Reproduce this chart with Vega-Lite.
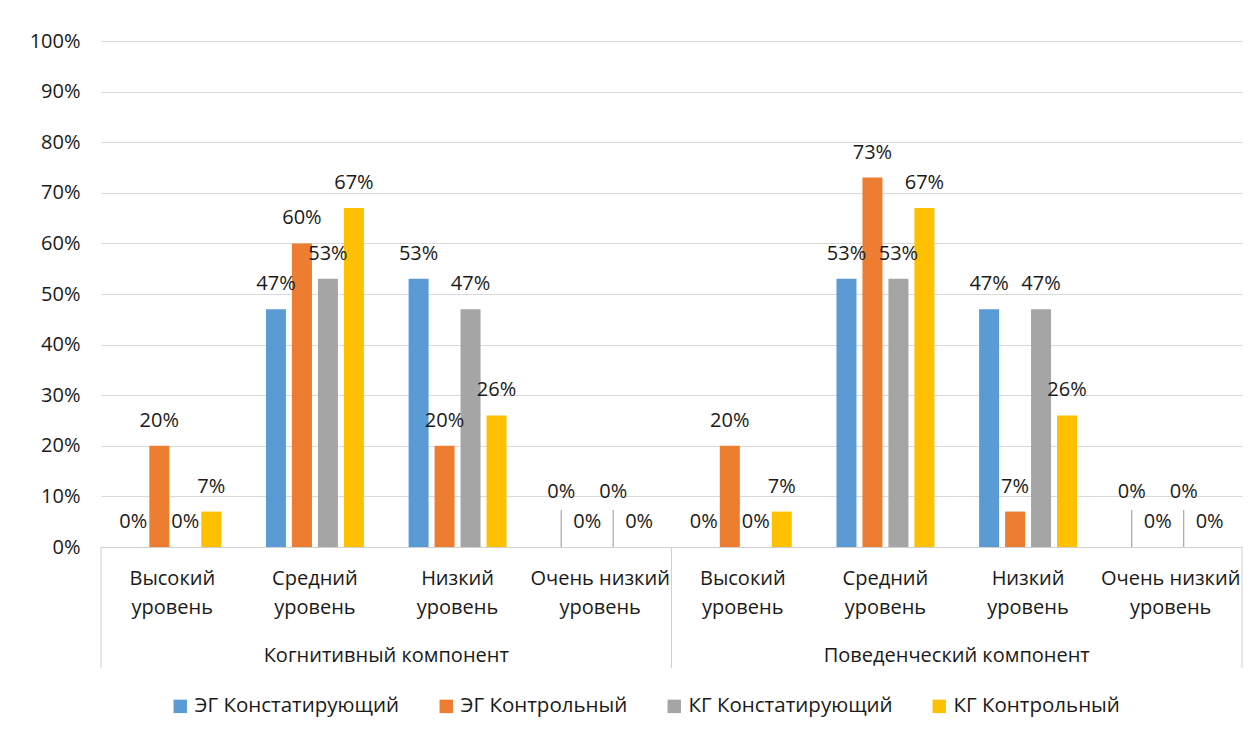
{
  "$schema": "https://vega.github.io/schema/vega-lite/v6.json",
  "width": 1141,
  "height": 506,
  "autosize": "none",
  "padding": {"left": 101, "top": 41, "right": 18, "bottom": 191},
  "background": "white",
  "config": {
    "font": "Open Sans",
    "view": {"stroke": null},
    "text": {"font": "Open Sans"}
  },
  "datasets": {
    "bars": [
      {"cat": "К|Высокий|уровень", "level": "Высокий уровень", "series": "ЭГ Констатирующий", "value": 0},
      {"cat": "К|Высокий|уровень", "level": "Высокий уровень", "series": "ЭГ Контрольный", "value": 0.20},
      {"cat": "К|Высокий|уровень", "level": "Высокий уровень", "series": "КГ Констатирующий", "value": 0},
      {"cat": "К|Высокий|уровень", "level": "Высокий уровень", "series": "КГ Контрольный", "value": 0.07},
      {"cat": "К|Средний|уровень", "level": "Средний уровень", "series": "ЭГ Констатирующий", "value": 0.47},
      {"cat": "К|Средний|уровень", "level": "Средний уровень", "series": "ЭГ Контрольный", "value": 0.60},
      {"cat": "К|Средний|уровень", "level": "Средний уровень", "series": "КГ Констатирующий", "value": 0.53},
      {"cat": "К|Средний|уровень", "level": "Средний уровень", "series": "КГ Контрольный", "value": 0.67},
      {"cat": "К|Низкий|уровень", "level": "Низкий уровень", "series": "ЭГ Констатирующий", "value": 0.53},
      {"cat": "К|Низкий|уровень", "level": "Низкий уровень", "series": "ЭГ Контрольный", "value": 0.20},
      {"cat": "К|Низкий|уровень", "level": "Низкий уровень", "series": "КГ Констатирующий", "value": 0.47},
      {"cat": "К|Низкий|уровень", "level": "Низкий уровень", "series": "КГ Контрольный", "value": 0.26},
      {"cat": "К|Очень низкий|уровень", "level": "Очень низкий уровень", "series": "ЭГ Констатирующий", "value": 0},
      {"cat": "К|Очень низкий|уровень", "level": "Очень низкий уровень", "series": "ЭГ Контрольный", "value": 0},
      {"cat": "К|Очень низкий|уровень", "level": "Очень низкий уровень", "series": "КГ Констатирующий", "value": 0},
      {"cat": "К|Очень низкий|уровень", "level": "Очень низкий уровень", "series": "КГ Контрольный", "value": 0},
      {"cat": "П|Высокий|уровень", "level": "Высокий уровень", "series": "ЭГ Констатирующий", "value": 0},
      {"cat": "П|Высокий|уровень", "level": "Высокий уровень", "series": "ЭГ Контрольный", "value": 0.20},
      {"cat": "П|Высокий|уровень", "level": "Высокий уровень", "series": "КГ Констатирующий", "value": 0},
      {"cat": "П|Высокий|уровень", "level": "Высокий уровень", "series": "КГ Контрольный", "value": 0.07},
      {"cat": "П|Средний|уровень", "level": "Средний уровень", "series": "ЭГ Констатирующий", "value": 0.53},
      {"cat": "П|Средний|уровень", "level": "Средний уровень", "series": "ЭГ Контрольный", "value": 0.73},
      {"cat": "П|Средний|уровень", "level": "Средний уровень", "series": "КГ Констатирующий", "value": 0.53},
      {"cat": "П|Средний|уровень", "level": "Средний уровень", "series": "КГ Контрольный", "value": 0.67},
      {"cat": "П|Низкий|уровень", "level": "Низкий уровень", "series": "ЭГ Констатирующий", "value": 0.47},
      {"cat": "П|Низкий|уровень", "level": "Низкий уровень", "series": "ЭГ Контрольный", "value": 0.07},
      {"cat": "П|Низкий|уровень", "level": "Низкий уровень", "series": "КГ Констатирующий", "value": 0.47},
      {"cat": "П|Низкий|уровень", "level": "Низкий уровень", "series": "КГ Контрольный", "value": 0.26},
      {"cat": "П|Очень низкий|уровень", "level": "Очень низкий уровень", "series": "ЭГ Констатирующий", "value": 0},
      {"cat": "П|Очень низкий|уровень", "level": "Очень низкий уровень", "series": "ЭГ Контрольный", "value": 0},
      {"cat": "П|Очень низкий|уровень", "level": "Очень низкий уровень", "series": "КГ Констатирующий", "value": 0},
      {"cat": "П|Очень низкий|уровень", "level": "Очень низкий уровень", "series": "КГ Контрольный", "value": 0}
    ],
    "comps": [
      {"cat": "К|Низкий|уровень", "comp": "Когнитивный компонент"},
      {"cat": "П|Низкий|уровень", "comp": "Поведенческий компонент"}
    ],
    "edgesStart": [
      {"cat": "К|Высокий|уровень"},
      {"cat": "П|Высокий|уровень"}
    ],
    "edgesEnd": [
      {"cat": "П|Очень низкий|уровень"}
    ]
  },
  "layer": [
    {
      "data": {"name": "bars"},
      "mark": {"type": "bar"},
      "encoding": {
        "x": {
          "field": "cat", "type": "nominal",
          "scale": {
            "domain": ["К|Высокий|уровень", "К|Средний|уровень", "К|Низкий|уровень", "К|Очень низкий|уровень",
                       "П|Высокий|уровень", "П|Средний|уровень", "П|Низкий|уровень", "П|Очень низкий|уровень"],
            "paddingInner": 0, "paddingOuter": 0
          },
          "axis": {
            "title": null,
            "labelExpr": "slice(split(datum.label, '|'), 1)",
            "labelFontSize": 20,
            "labelColor": "#1a1a1a",
            "labelAngle": 0,
            "labelLineHeight": 29,
            "labelPadding": 21,
            "labelBaseline": "top",
            "labelOverlap": false,
            "labelLimit": 0,
            "ticks": false,
            "domainColor": "#d0d0d0",
            "domainWidth": 1,
            "grid": false
          }
        },
        "xOffset": {
          "field": "series", "type": "nominal",
          "scale": {
            "domain": ["ЭГ Констатирующий", "ЭГ Контрольный", "КГ Констатирующий", "КГ Контрольный"],
            "paddingInner": 0.23, "paddingOuter": 0.86
          }
        },
        "y": {
          "field": "value", "type": "quantitative",
          "scale": {"domain": [0, 1], "nice": false},
          "axis": {
            "title": null,
            "format": ".0%",
            "values": [0, 0.1, 0.2, 0.3, 0.4, 0.5, 0.6, 0.7, 0.8, 0.9, 1],
            "labelFontSize": 20,
            "labelColor": "#1a1a1a",
            "labelPadding": 21,
            "domain": false,
            "ticks": false,
            "gridColor": "#d9d9d9",
            "gridWidth": 1
          }
        },
        "color": {
          "field": "series", "type": "nominal",
          "scale": {
            "domain": ["ЭГ Констатирующий", "ЭГ Контрольный", "КГ Констатирующий", "КГ Контрольный"],
            "range": ["#5B9BD5", "#ED7D31", "#A5A5A5", "#FFC000"]
          },
          "legend": {
            "title": null,
            "orient": "none",
            "legendX": 69,
            "legendY": 655,
            "direction": "horizontal",
            "columns": 4,
            "symbolType": "square",
            "symbolSize": 180,
            "symbolStrokeWidth": 0,
            "labelFontSize": 20.5,
            "labelColor": "#1a1a1a",
            "labelOffset": 4,
            "columnPadding": 36,
            "labelLimit": 0
          }
        }
      }
    },
    {
      "data": {"name": "bars"},
      "transform": [
        {"filter": "!(datum.level == 'Очень низкий уровень' && (datum.series == 'ЭГ Констатирующий' || datum.series == 'КГ Констатирующий'))"}
      ],
      "mark": {"type": "text", "fontSize": 20, "color": "#1a1a1a", "baseline": "middle", "dy": -25},
      "encoding": {
        "x": {"field": "cat", "type": "nominal"},
        "xOffset": {"field": "series", "type": "nominal"},
        "y": {"field": "value", "type": "quantitative"},
        "text": {"field": "value", "type": "quantitative", "format": ".0%"}
      }
    },
    {
      "data": {"name": "bars"},
      "transform": [
        {"filter": "datum.level == 'Очень низкий уровень' && (datum.series == 'ЭГ Констатирующий' || datum.series == 'КГ Констатирующий')"}
      ],
      "mark": {"type": "text", "fontSize": 20, "color": "#1a1a1a", "baseline": "middle", "dy": -55},
      "encoding": {
        "x": {"field": "cat", "type": "nominal"},
        "xOffset": {"field": "series", "type": "nominal"},
        "y": {"field": "value", "type": "quantitative"},
        "text": {"field": "value", "type": "quantitative", "format": ".0%"}
      }
    },
    {
      "data": {"name": "bars"},
      "transform": [
        {"filter": "datum.level == 'Очень низкий уровень' && (datum.series == 'ЭГ Констатирующий' || datum.series == 'КГ Констатирующий')"}
      ],
      "mark": {"type": "rule", "color": "#a6a6a6", "strokeWidth": 1.2, "y2Offset": -37},
      "encoding": {
        "x": {"field": "cat", "type": "nominal"},
        "xOffset": {"field": "series", "type": "nominal"},
        "y": {"field": "value", "type": "quantitative"},
        "y2": {"field": "value"}
      }
    },
    {
      "data": {"name": "comps"},
      "mark": {"type": "text", "fontSize": 20, "color": "#1a1a1a", "baseline": "middle", "dy": 109},
      "encoding": {
        "x": {"field": "cat", "type": "nominal", "bandPosition": 0},
        "y": {"datum": 0, "type": "quantitative"},
        "text": {"field": "comp"}
      }
    },
    {
      "data": {"name": "edgesStart"},
      "mark": {"type": "rule", "color": "#d0d0d0", "strokeWidth": 1, "y2Offset": 121},
      "encoding": {
        "x": {"field": "cat", "type": "nominal", "bandPosition": 0},
        "y": {"datum": 0, "type": "quantitative"},
        "y2": {"datum": 0}
      }
    },
    {
      "data": {"name": "edgesEnd"},
      "mark": {"type": "rule", "color": "#d0d0d0", "strokeWidth": 1, "y2Offset": 121},
      "encoding": {
        "x": {"field": "cat", "type": "nominal", "bandPosition": 1},
        "y": {"datum": 0, "type": "quantitative"},
        "y2": {"datum": 0}
      }
    }
  ]
}
